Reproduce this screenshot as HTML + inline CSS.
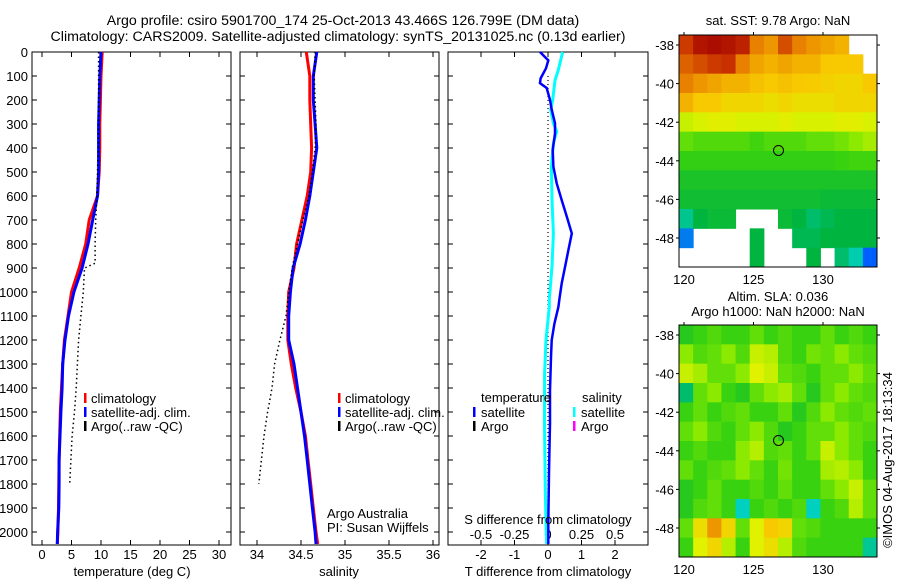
<!DOCTYPE html>
<html><head><meta charset="utf-8">
<style>
html,body{margin:0;padding:0;background:#fff;}
svg{display:block;font-family:"Liberation Sans",sans-serif;}
text{font-size:13px;fill:#000;}
.ttl{font-size:14.2px;}
</style></head>
<body>
<svg id="fig" width="900" height="580" viewBox="0 0 900 580" xmlns="http://www.w3.org/2000/svg">
<text class="ttl" x="343" y="25" text-anchor="middle">Argo profile: csiro 5901700_174 25-Oct-2013 43.466S 126.799E (DM data)</text>
<text class="ttl" x="338" y="41" text-anchor="middle">Climatology: CARS2009. Satellite-adjusted climatology: synTS_20131025.nc (0.13d earlier)</text>
<g id="g"></g>
</svg>
<script>
// ---------- data ----------
const depths = [0,100,200,300,400,500,600,700,800,900,1000,1100,1200,1300,1400,1500,1600,1700,1800,1900,2000,2050];
const tempClim = [10.2,10.0,9.9,9.8,9.8,9.7,9.4,8.0,7.4,6.3,5.0,4.4,3.8,3.5,3.3,3.1,3.0,2.9,2.85,2.8,2.7,2.6];
const tempSat  = [10.0,9.8,9.7,9.6,9.6,9.6,9.4,8.6,7.8,6.8,5.4,4.5,3.9,3.5,3.4,3.2,3.05,2.9,2.9,2.85,2.65,2.6];
const argoDepths = [0,100,200,300,400,500,600,700,800,850,880,900,1000,1100,1200,1300,1400,1500,1600,1700,1800];
const tempArgo = [9.6,9.6,9.6,9.5,9.5,9.4,9.3,9.1,9.0,9.0,9.0,7.2,7.0,6.6,6.2,6.0,5.8,5.5,5.1,4.9,4.7];
const salClim = [34.56,34.60,34.60,34.61,34.62,34.61,34.57,34.51,34.45,34.42,34.36,34.35,34.35,34.39,34.44,34.50,34.55,34.58,34.61,34.64,34.67,34.69];
const salSat  = [34.68,34.64,34.64,34.66,34.68,34.64,34.60,34.55,34.49,34.41,34.38,34.36,34.36,34.42,34.46,34.50,34.54,34.57,34.60,34.63,34.66,34.67];
const salArgo = [34.66,34.65,34.66,34.67,34.66,34.63,34.59,34.52,34.46,34.43,34.41,34.40,34.36,34.33,34.26,34.20,34.17,34.12,34.08,34.05,34.02];
const diffDepths = [0,35,68,110,130,150,200,240,297,340,408,478,547,617,686,756,825,894,964,1030,1062,1132,1201,1271,1410,1549,1688,1757,1965,2050];
const tDiffSat = [-0.24,0.01,-0.06,-0.22,-0.24,-0.04,0.06,0.11,0.21,0.21,0.14,0.16,0.26,0.41,0.56,0.71,0.61,0.51,0.41,0.34,0.31,0.19,0.11,0.09,0.06,0.06,0.04,0.03,0.01,0.01];
const sDiffDepths = [0,75,118,200,240,297,330,380,478,617,756,894,1030,1062,1200,1340,1549,1826,1965,2050];
const sDiffSat = [0.11,0.077,0.052,0.035,0.02,0.04,0.065,0.04,0.025,0.03,0.04,0.03,0.01,0.01,-0.015,-0.025,-0.026,-0.02,-0.015,-0.01];
const depthTicks = [0,100,200,300,400,500,600,700,800,900,1000,1100,1200,1300,1400,1500,1600,1700,1800,1900,2000];
const tempTicks = [0,5,10,15,20,25,30];
const salTicks = [34,34.5,35,35.5,36];
const salTickLabels = ["34","34.5","35","35.5","36"];
const tDiffTicks = [-2,-1,0,1,2];
const sDiffTicks = [-0.5,-0.25,0,0.25,0.5];
const sDiffTickLabels = ["-0.5","-0.25","0","0.25","0.5"];
const lonTicks = [120,125,130];
const latTicks = [-38,-40,-42,-44,-46,-48];
const argoLon = 126.799, argoLat = -43.466;
const sstGrid = [
[0.92,0.97,0.98,0.97,0.95,0.85,0.82,0.9,0.85,0.82,0.8,0.78,null,null],
[0.88,0.9,0.92,0.93,0.85,0.8,0.78,0.8,0.78,0.78,0.75,0.75,0.75,null],
[0.85,0.82,0.8,0.78,0.78,0.76,0.75,0.76,0.75,0.74,0.73,0.72,0.72,0.75],
[0.78,0.75,0.75,0.72,0.72,0.72,0.7,0.72,0.7,0.7,0.7,0.72,0.72,0.72],
[0.62,0.64,0.66,0.66,0.64,0.64,0.64,0.66,0.64,0.64,0.64,0.66,0.66,0.64],
[0.5,0.48,0.48,0.48,0.48,0.46,0.48,0.48,0.48,0.5,0.5,0.52,0.55,0.58],
[0.44,0.44,0.44,0.44,0.44,0.44,0.44,0.44,0.44,0.44,0.44,0.45,0.46,0.46],
[0.4,0.4,0.4,0.4,0.4,0.4,0.4,0.4,0.4,0.4,0.4,0.4,0.4,0.4],
[0.38,0.38,0.38,0.38,0.38,0.38,0.38,0.38,0.38,0.38,0.37,0.37,0.37,0.37],
[0.26,0.35,0.37,0.37,null,null,null,0.37,0.35,0.3,0.33,0.35,0.35,0.35],
[0.05,null,null,null,null,0.35,null,null,0.33,0.33,0.35,0.35,0.35,0.35],
[null,null,null,null,null,0.35,null,null,null,0.35,null,0.3,0.22,0.0]];
const slaGrid = [
[0.42,0.45,0.48,0.45,0.45,0.5,0.45,0.48,0.45,0.45,0.5,0.45,0.48,0.45],
[0.55,0.48,0.5,0.55,0.48,0.62,0.6,0.48,0.45,0.52,0.5,0.55,0.5,0.48],
[0.62,0.58,0.5,0.5,0.55,0.65,0.62,0.5,0.48,0.45,0.5,0.5,0.55,0.5],
[0.3,0.5,0.55,0.45,0.42,0.5,0.55,0.58,0.5,0.42,0.5,0.55,0.5,0.48],
[0.45,0.5,0.45,0.48,0.5,0.45,0.45,0.5,0.42,0.48,0.55,0.5,0.48,0.5],
[0.5,0.55,0.48,0.45,0.5,0.55,0.48,0.42,0.45,0.5,0.5,0.55,0.5,0.48],
[0.45,0.48,0.45,0.45,0.55,0.6,0.48,0.5,0.45,0.5,0.62,0.55,0.5,0.45],
[0.5,0.45,0.48,0.5,0.55,0.5,0.45,0.52,0.45,0.45,0.58,0.6,0.55,0.45],
[0.42,0.45,0.5,0.45,0.45,0.48,0.45,0.5,0.45,0.45,0.5,0.55,0.62,0.5],
[0.42,0.48,0.5,0.45,0.2,0.45,0.48,0.45,0.48,0.2,0.45,0.48,0.6,0.5],
[0.5,0.7,0.82,0.72,0.5,0.65,0.75,0.72,0.5,0.48,0.45,0.45,0.45,0.45],
[0.45,0.65,0.72,0.6,0.45,0.65,0.7,0.6,0.48,0.45,0.45,0.45,0.45,0.25]];

// ---------- helpers ----------
const NS="http://www.w3.org/2000/svg";
const G=document.getElementById('g');
function mk(tag,attrs,parent){const e=document.createElementNS(NS,tag);for(const k in attrs)e.setAttribute(k,attrs[k]);(parent||G).appendChild(e);return e;}
function txt(s,x,y,anchor,parent){const t=mk('text',{x:x,y:y,'text-anchor':anchor||'start'},parent);t.textContent=s;return t;}
const PT=52, PB=545;
const yD=d=>PT+d*0.24;
const xT=v=>42+v*5.9;
const xS=v=>257+(v-34)*88;
const xTd=v=>548+v*33.5;
const xSd=v=>548+v*134;
function line(xs,ys,color,w,dash,name){
  let p=xs.map((x,i)=>x.toFixed(1)+','+ys[i].toFixed(1)).join(' ');
  const e=mk('polyline',{points:p,fill:'none',stroke:color,'stroke-width':w});
  if(dash)e.setAttribute('stroke-dasharray',dash);
  
  
  return e;
}
function panel(x0,x1,name){
  const r=mk('rect',{x:x0,y:PT,width:x1-x0,height:PB-PT,fill:'none',stroke:'#000','stroke-width':1});
  
  
  depthTicks.forEach(d=>{mk('line',{x1:x0,x2:x0+5,y1:yD(d),y2:yD(d),stroke:'#000'});mk('line',{x1:x1-5,x2:x1,y1:yD(d),y2:yD(d),stroke:'#000'});});
}
function xticks(vals,labels,fx,ylab){
  vals.forEach((v,i)=>{const x=fx(v);mk('line',{x1:x,x2:x,y1:PT,y2:PT+5,stroke:'#000'});mk('line',{x1:x,x2:x,y1:PB-5,y2:PB,stroke:'#000'});
    const t=txt(labels[i],x,ylab,'middle');});
}
function colormap(v){
  const st=[[0,[0,96,255]],[0.2,[0,208,192]],[0.35,[0,180,64]],[0.45,[56,210,16]],[0.55,[140,234,0]],[0.65,[224,242,0]],[0.75,[248,200,0]],[0.85,[232,128,0]],[0.93,[200,48,0]],[1,[160,0,0]]];
  for(let i=1;i<st.length;i++){if(v<=st[i][0]){const a=st[i-1],b=st[i];const f=(v-a[0])/(b[0]-a[0]);
    return 'rgb('+a[1].map((c,j)=>Math.round(c+(b[1][j]-c)*f)).join(',')+')';}}
  return 'rgb(160,0,0)';
}

// ---------- panel 1: temperature ----------
panel(32,231,'temperature-panel');
depthTicks.forEach(d=>{const t=txt(String(d),28,yD(d)+5,'end');});
xticks(tempTicks,tempTicks.map(String),xT,559);
line(tempClim.map(xT),depths.map(yD),'#f00',3,null,'temp-climatology-line');
line(tempSat.map(xT),depths.map(yD),'#00f',3,null,'temp-satellite-line');
line(tempArgo.map(xT),argoDepths.map(yD),'#000',1.5,'1.5,3','temp-argo-line');
txt('temperature (deg C)',132,576,'middle');

// ---------- panel 2: salinity ----------
panel(240,439,'salinity-panel');
xticks(salTicks,salTickLabels,xS,559);
line(salClim.map(xS),depths.map(yD),'#f00',3,null,'sal-climatology-line');
line(salSat.map(xS),depths.map(yD),'#00f',3,null,'sal-satellite-line');
line(salArgo.map(xS),argoDepths.map(yD),'#000',1.5,'1.5,3','sal-argo-line');
txt('salinity',339,576,'middle');
txt('Argo Australia',327,518);
txt('PI: Susan Wijffels',327,532);

// legends 1 & 2
[[84,'legend-temp'],[338,'legend-sal']].forEach(([lx,nm])=>{
  [['climatology','#f00'],['satellite-adj. clim.','#00f'],['Argo(..raw -QC)','#000']].forEach((it,i)=>{
    const y=398+i*14;
    mk('rect',{x:lx,y:y-5,width:2.5,height:10,fill:it[1]});
    const t=txt(it[0],lx+7,y+5);
  });
});

// ---------- panel 3: differences ----------
panel(448,648,'difference-panel');
xticks(tDiffTicks,tDiffTicks.map(String),xTd,559);
sDiffTicks.forEach((v,i)=>{const t=txt(sDiffTickLabels[i],xSd(v),539,'middle');});
line([xTd(0),xTd(0)],[yD(100),yD(1960)],'#000',1.2,'1,3','zero-reference-line');
line(sDiffSat.map(xSd),sDiffDepths.map(yD),'#0ff',3,null,'sal-diff-satellite-line');
line(tDiffSat.map(xTd),diffDepths.map(yD),'#00f',2.5,null,'temp-diff-satellite-line');
txt('S difference from climatology',548,524,'middle');
txt('T difference from climatology',548,576,'middle');
txt('temperature',481,402);
txt('salinity',582,402);
[[473,'satellite','#00f'],[473,'Argo','#000'],[573,'satellite','#0ff'],[573,'Argo','#f0f']].forEach((it,i)=>{
  const y=412+(i%2)*14;
  mk('rect',{x:it[0],y:y-5,width:2.5,height:10,fill:it[2]});
  const t=txt(it[1],it[0]+8,y+5);
});

// ---------- maps ----------
function map(y0,grid,name){
  const X0=679,X1=877,Y1=y0+232;
  const lonX=l=>684+(l-120)*13.9;
  const latY=l=>(y0+10)+(-38-l)*19.3;
  const cw=(X1-X0)/14, ch=(Y1-y0)/12;
  grid.forEach((row,r)=>row.forEach((v,c)=>{
    if(v===null)return;
    const e=mk('rect',{x:X0+c*cw,y:y0+r*ch,width:cw+0.5,height:ch+0.5,fill:colormap(v)});
    
    
  }));
  const fr=mk('rect',{x:X0,y:y0,width:X1-X0,height:Y1-y0,fill:'none',stroke:'#000'});
  
  
  lonTicks.forEach(l=>{const x=lonX(l);mk('line',{x1:x,x2:x,y1:y0-3,y2:y0,stroke:'#000'});
    const t=txt(String(l),x,Y1+17,'middle');});
  latTicks.forEach(l=>{const y=latY(l);mk('line',{x1:X0-3,x2:X0,y1:y,y2:y,stroke:'#000'});mk('line',{x1:X1,x2:X1+3,y1:y,y2:y,stroke:'#000'});
    const t=txt(String(l),674,y+5,'end');});
  const c=mk('circle',{cx:lonX(argoLon),cy:latY(argoLat),r:5,fill:'none',stroke:'#000'});
  
  
}
map(35,sstGrid,'sst-map');
map(325,slaGrid,'sla-map');
txt('sat. SST: 9.78 Argo: NaN',778,25,'middle');
txt('Altim. SLA: 0.036',778,301,'middle');
txt('Argo h1000: NaN h2000: NaN',778,316,'middle');
const v=txt('©IMOS 04-Aug-2017 18:13:34',0,0,'middle');
v.setAttribute('transform','translate(892,460) rotate(-90)');


</script>
</body></html>
